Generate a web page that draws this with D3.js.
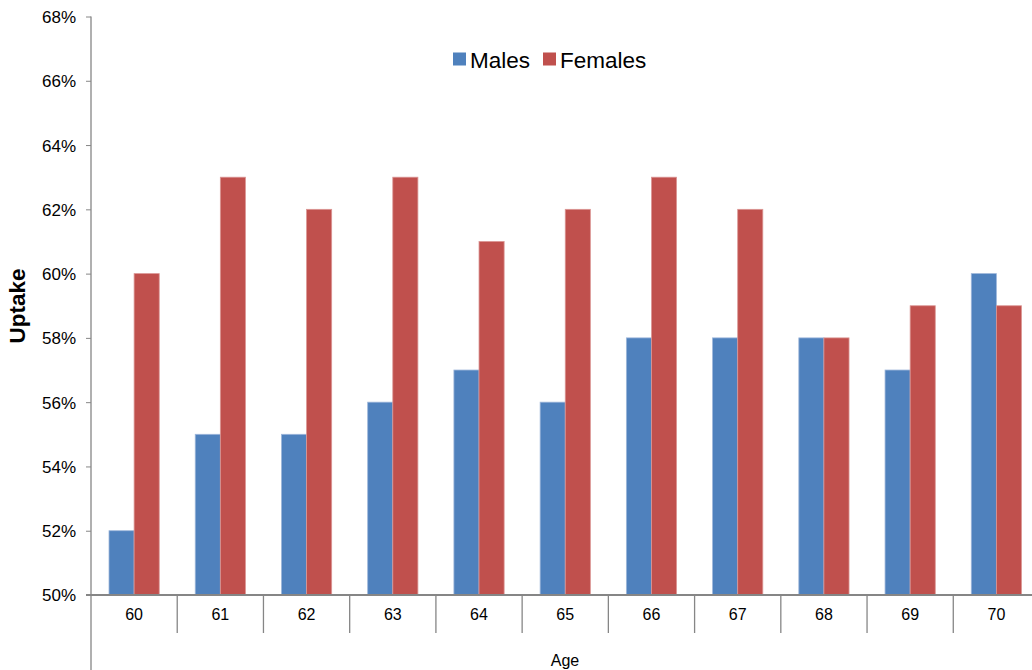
<!DOCTYPE html>
<html><head><meta charset="utf-8">
<script src="https://cdn.jsdelivr.net/npm/d3@7"></script>
<style>body{margin:0;background:#fff}svg{display:block;font-family:"Liberation Sans",Arial,sans-serif}</style>
</head><body>
<svg id="c" width="1032" height="670"></svg>
<script>
const ages = ["60","61","62","63","64","65","66","67","68","69","70"];
const males = [52,55,55,56,57,56,58,58,58,57,60];
const females = [60,63,62,63,61,62,63,62,58,59,59];
const yTicks = [50,52,54,56,58,60,62,64,66,68];
const seriesNames = ["Males","Females"];
const seriesColors = ["#4F81BD","#C0504D"];
const strokeColors = ["#9DB6DA","#DB9694"];

const svg = d3.select("#c");
const x = d3.scaleBand().domain(ages).range([91,1039.5]).paddingInner(0).paddingOuter(0);
const y = d3.scaleLinear().domain([50,68]).range([595,16.5]);
const gap = 18/86.2;
const inner = x.bandwidth()*(1-2*gap);
const xs = d3.scaleBand().domain(seriesNames).range([x.bandwidth()*gap, x.bandwidth()*gap+inner]);

const axisColor = "#868686";

// y axis
const yAxis = d3.axisLeft(y).tickValues(yTicks).tickSize(5).tickPadding(10).tickFormat(d=>d+"%");
const gy = svg.append("g").attr("transform","translate(91,0)").call(yAxis);
gy.select(".domain").remove();
gy.selectAll(".tick line").attr("stroke",axisColor);
gy.selectAll(".tick text").attr("font-size",17).attr("fill","#000").attr("font-family","Liberation Sans, Arial, sans-serif").attr("dy","0.35em");
svg.append("line").attr("x1",91).attr("x2",91).attr("y1",y(68)).attr("y2",670).attr("stroke",axisColor).attr("stroke-width",1.3);

// bars
const data = [males, females];
data.forEach((vals,si)=>{
  svg.append("g").selectAll("rect").data(ages).join("rect")
    .attr("x",d=>x(d)+xs(seriesNames[si]))
    .attr("width",xs.bandwidth())
    .attr("y",(d,i)=>y(vals[i]))
    .attr("height",(d,i)=>y(50)-y(vals[i]))
    .attr("fill",seriesColors[si])
    .attr("stroke",strokeColors[si]).attr("stroke-width",0.8);
});

// x axis
svg.append("line").attr("x1",86).attr("x2",1039.5).attr("y1",y(50)).attr("y2",y(50)).attr("stroke",axisColor).attr("stroke-width",2);
const boundaries = ages.slice(1).map(a=>x(a));
svg.append("g").selectAll("line").data(boundaries).join("line")
  .attr("x1",d=>d).attr("x2",d=>d).attr("y1",y(50)).attr("y2",633)
  .attr("stroke",axisColor).attr("stroke-width",1.3);
svg.append("g").selectAll("text").data(ages).join("text")
  .attr("x",d=>x(d)+x.bandwidth()/2).attr("y",620)
  .attr("text-anchor","middle").attr("font-size",16).attr("fill","#000").text(d=>d);

svg.append("text").attr("x",565).attr("y",666).attr("text-anchor","middle").attr("font-size",16).text("Age");
svg.append("text").attr("transform","translate(25,306) rotate(-90)").attr("text-anchor","middle")
  .attr("font-size",22.5).attr("font-weight","bold").text("Uptake");

// legend
const legX = [453,543];
seriesNames.forEach((n,i)=>{
  svg.append("rect").attr("x",legX[i]).attr("y",52.5).attr("width",13).attr("height",13).attr("fill",seriesColors[i]);
  svg.append("text").attr("x",legX[i]+17).attr("y",68).attr("font-size",22.5).attr("fill","#000").text(n);
});
</script>
</body></html>
